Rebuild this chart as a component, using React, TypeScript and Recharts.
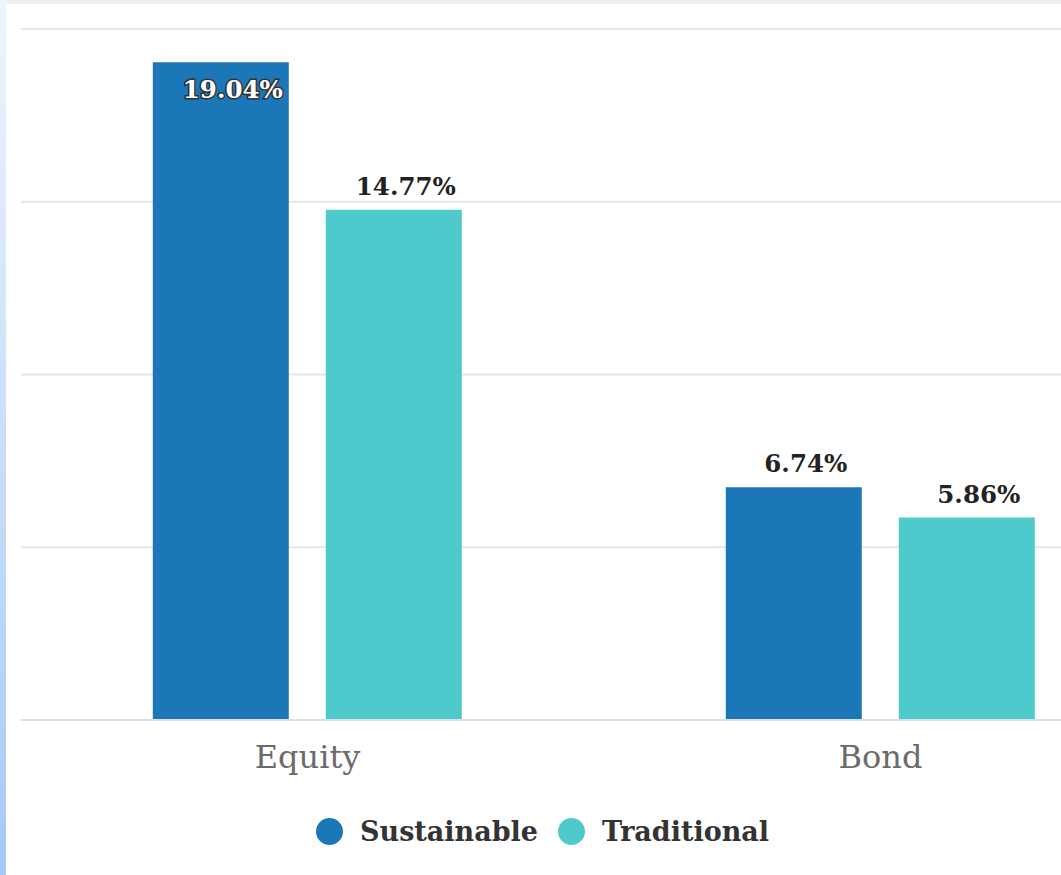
import { BarChart, Bar, XAxis, YAxis, CartesianGrid, Legend, LabelList } from "recharts";

const categories = ["Equity", "Bond"];
const sustainable = [19.04, 6.74];
const traditional = [14.77, 5.86];
const yTicks = [0, 5, 10, 15, 20];

const seriesInfo = [
  { key: "sustainable", name: "Sustainable", color: "#1b77b8" },
  { key: "traditional", name: "Traditional", color: "#4ecacc" },
];

const chartData = categories.map((c, i) => ({
  category: c,
  sustainable: sustainable[i],
  traditional: traditional[i],
}));

const FONT = "'DejaVu Serif', serif";

function ValueLabel(props: any) {
  const { x, y, width, value } = props;
  const cx = Number(x) + Number(width) / 2 + 12;
  const text = `${Number(value).toFixed(2)}%`;
  if (Number(value) > 18) {
    return (
      <text
        x={cx}
        y={Number(y) + 36}
        textAnchor="middle"
        fontFamily={FONT}
        fontSize={24.5}
        fontWeight="bold"
        fill="#ffffff"
        stroke="#333333"
        strokeWidth={3}
        paintOrder="stroke"
      >
        {text}
      </text>
    );
  }
  return (
    <text x={cx} y={Number(y) - 15} textAnchor="middle" fontFamily={FONT} fontSize={24.5} fontWeight="bold" fill="#222222">
      {text}
    </text>
  );
}

function LegendContent() {
  return (
    <div style={{ display: "flex", alignItems: "center", height: 40, paddingLeft: 316, fontFamily: FONT }}>
      {seriesInfo.map((s, i) => (
        <div key={s.key} style={{ display: "flex", alignItems: "center", marginLeft: i === 0 ? 0 : 20 }}>
          <span style={{ width: 27, height: 27, borderRadius: "50%", background: s.color, display: "inline-block" }} />
          <span style={{ marginLeft: 17, fontSize: 27, fontWeight: "bold", color: "#333333" }}>{s.name}</span>
        </div>
      ))}
    </div>
  );
}

export default function App() {
  return (
    <div style={{ position: "absolute", left: 0, top: 0, width: 1061, height: 875, overflow: "hidden", background: "#ffffff" }}>
      <div style={{ position: "absolute", left: 0, top: 0, width: 1061, height: 4, background: "#f0f0f0" }} />
      <div
        style={{
          position: "absolute",
          left: 0,
          top: 0,
          width: 6,
          height: 875,
          background: "linear-gradient(#eef4fd, #a6c8f6)",
          zIndex: 2,
        }}
      />
      <BarChart
        width={1190}
        height={875}
        data={chartData}
        margin={{ top: 29, right: 23, left: 21, bottom: 24 }}
        barCategoryGap="23%"
        barGap={37}
        style={{ fontFamily: FONT }}
      >
        <CartesianGrid vertical={false} stroke="#e6e6e6" strokeWidth={2} />
        <XAxis
          dataKey="category"
          tickLine={false}
          axisLine={{ stroke: "#d8e0ee", strokeWidth: 2 }}
          tick={{ fill: "#6b6b6b", fontSize: 32, fontFamily: FONT }}
          tickMargin={19}
          height={91}
          interval={0}
        />
        <YAxis hide domain={[0, 20]} ticks={yTicks} />
        <Legend verticalAlign="bottom" content={<LegendContent />} wrapperStyle={{ left: 0, width: 1061 }} />
        {seriesInfo.map((s) => (
          <Bar key={s.key} dataKey={s.key} name={s.name} fill={s.color} isAnimationActive={false}>
            <LabelList dataKey={s.key} content={<ValueLabel />} />
          </Bar>
        ))}
      </BarChart>
    </div>
  );
}
